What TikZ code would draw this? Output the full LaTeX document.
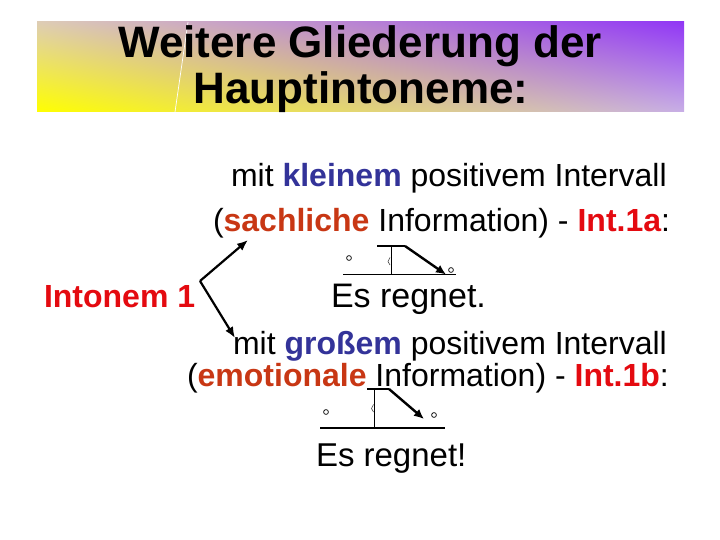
\documentclass[tikz,border=0pt]{standalone}
\usepackage{fontspec}
\setmainfont{Liberation Sans}
\usetikzlibrary{arrows.meta,shadings}
\definecolor{kw}{RGB}{51,51,153}
\definecolor{ib}{RGB}{200,55,20}
\definecolor{ir}{RGB}{228,10,16}
\definecolor{bnTL}{RGB}{222,205,180}
\definecolor{bnTR}{RGB}{145,55,245}
\definecolor{bnBL}{RGB}{255,255,0}
\definecolor{bnBR}{RGB}{200,175,230}
\begin{document}
\begin{tikzpicture}[x=1pt,y=-1pt,
  txt/.style={inner sep=0pt,outer sep=0pt,anchor=base west,font=\fontsize{32}{38}\selectfont},
  ttl/.style={inner sep=0pt,anchor=base,font=\bfseries\fontsize{44}{50}\selectfont},
  branch/.style={line width=2.2pt,-{Latex[length=11pt,width=9pt]}},
  baseln/.style={line width=1.2pt},
  topln/.style={line width=2.2pt},
  vertln/.style={line width=1pt},
  fallarrow/.style={line width=2.4pt,-{Latex[length=10pt,width=9pt]}},
  dot/.style={line width=0.7pt},
  wig/.style={line width=0.6pt,black!75}]
\useasboundingbox (0,0) rectangle (720,540);
% title banner
\shade[upper left=bnTL, upper right=bnTR, lower left=bnBL, lower right=bnBR] (37,22) rectangle (684,112);
\draw[white,line width=0.7pt] (188,22) -- (175,112);
\node[ttl] (t1) at (360,58) {Weitere Gliederung der};
\node[ttl] (t2) at (361,104) {Hauptintoneme:};
% texts
\node[txt,font=\bfseries\fontsize{32}{38}\selectfont,text=ir] (into) at (44,307) {Intonem 1};
\node[txt] (l1) at (231,187) {mit \textcolor{kw}{\bfseries kleinem} positivem Intervall};
\node[txt] (l2) at (213,231) {(\textcolor{ib}{\bfseries sachliche} Information) - \textcolor{ir}{\bfseries Int.1a}:};
\node[txt,font=\fontsize{34}{40}\selectfont] (s1) at (331,307) {Es regnet.};
\node[txt] (l3) at (233,354) {mit \textcolor{kw}{\bfseries großem} positivem Intervall};
\node[txt] (l4) at (187,386) {(\textcolor{ib}{\bfseries emotionale} Information) - \textcolor{ir}{\bfseries Int.1b}:};
\node[txt,font=\fontsize{33}{40}\selectfont] (s2) at (316,466) {Es regnet!};
% branch arrows
\coordinate (v) at (200,281);
\coordinate (ta) at (248,240);
\coordinate (tb) at (235,338);
\draw[branch] (v) -- (ta);
\draw[branch] (v) -- (tb);
% intonation mark 1a
\draw[baseln] (343,274.5) -- (456,274.5);
\draw[topln] (377,246) -- (405,246);
\draw[vertln] (391,246) -- (391,274.5);
\draw[fallarrow] (405,246) -- (446,274.5);
\draw[dot] (349,258) circle (2.4);
\draw[dot] (451,270) circle (2.4);
\draw[wig] (390,257.5) -- (388,261.5) -- (390,265);
% intonation mark 1b
\draw[baseln] (320,428) -- (445,428);
\draw[topln] (367,389) -- (389,389);
\draw[vertln] (374.5,389) -- (374.5,428);
\draw[fallarrow] (389,389) -- (424,419);
\draw[dot] (326,412) circle (2.4);
\draw[dot] (434,415) circle (2.4);
\draw[wig] (373.5,404.5) -- (371.5,408.5) -- (373.5,412);
\end{tikzpicture}
\end{document}
